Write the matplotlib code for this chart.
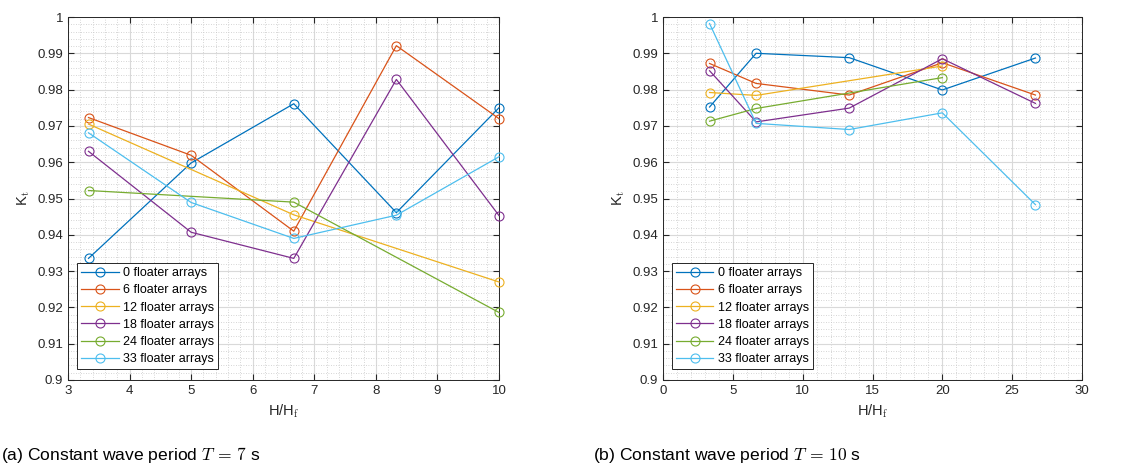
import numpy as np
import matplotlib
matplotlib.use("Agg")
import matplotlib.pyplot as plt
from matplotlib.ticker import MultipleLocator, FormatStrFormatter

plt.rcParams['font.family'] = ['Liberation Sans', 'DejaVu Sans']
plt.rcParams['mathtext.fontset'] = 'cm'

# MARK: data

labels = ['0 floater arrays', '6 floater arrays', '12 floater arrays',
          '18 floater arrays', '24 floater arrays', '33 floater arrays']
colors = ['#0072BD', '#D95319', '#EDB120', '#7E2F8E', '#77AC30', '#4DBEEE']

# (a) T = 7 s
x_a = [3.333, 5.0, 6.667, 8.333, 10.0]
x_a_short = [3.333, 6.667, 10.0]
kt_a_0 = [0.9335, 0.9598, 0.9761, 0.9461, 0.9750]
kt_a_6 = [0.9723, 0.9619, 0.9410, 0.9921, 0.9720]
kt_a_12 = [0.9705, 0.9455, 0.9270]
kt_a_18 = [0.9630, 0.9407, 0.9335, 0.9828, 0.9453]
kt_a_24 = [0.9522, 0.9490, 0.9186]
kt_a_33 = [0.9681, 0.9489, 0.9390, 0.9454, 0.9615]

# (b) T = 10 s
x_b = [3.333, 6.667, 13.333, 20.0, 26.667]
x_b_short = [3.333, 6.667, 20.0]
kt_b_0 = [0.9752, 0.9900, 0.9888, 0.9799, 0.9887]
kt_b_6 = [0.9872, 0.9817, 0.9785, 0.9874, 0.9785]
kt_b_12 = [0.9792, 0.9784, 0.9865]
kt_b_18 = [0.9852, 0.9711, 0.9749, 0.9885, 0.9762]
kt_b_24 = [0.9713, 0.9748, 0.9833]
kt_b_33 = [0.9982, 0.9707, 0.9690, 0.9736, 0.9483]

series_a = [(x_a, kt_a_0), (x_a, kt_a_6), (x_a_short, kt_a_12),
            (x_a, kt_a_18), (x_a_short, kt_a_24), (x_a, kt_a_33)]
series_b = [(x_b, kt_b_0), (x_b, kt_b_6), (x_b_short, kt_b_12),
            (x_b, kt_b_18), (x_b_short, kt_b_24), (x_b, kt_b_33)]

# MARK: plotting

fig = plt.figure(figsize=(11.48, 4.68), dpi=100)
ax_a = fig.add_axes([68 / 1148, 1 - 380 / 468, 431 / 1148, 363 / 468])
ax_b = fig.add_axes([663 / 1148, 1 - 380 / 468, 419 / 1148, 363 / 468])


def style_axes(ax, xlim, xmajor, xminor):
    ax.set_xlim(*xlim)
    ax.set_ylim(0.9, 1.0)
    ax.xaxis.set_major_locator(MultipleLocator(xmajor))
    ax.xaxis.set_minor_locator(MultipleLocator(xminor))
    ax.yaxis.set_major_locator(MultipleLocator(0.01))
    ax.yaxis.set_minor_locator(MultipleLocator(0.002))
    ax.yaxis.set_major_formatter(FormatStrFormatter('%g'))
    ax.xaxis.set_major_formatter(FormatStrFormatter('%g'))
    ax.grid(which='major', color='#d9d9d9', linewidth=0.8)
    ax.grid(which='minor', color='#c8c8c8', linewidth=0.6, linestyle=(0, (1, 2)))
    ax.set_axisbelow(True)
    ax.tick_params(which='both', direction='in', top=True, right=True,
                   labelsize=9.5, colors='#262626', length=4)
    ax.tick_params(which='minor', length=0)
    for sp in ax.spines.values():
        sp.set_color('#262626')
        sp.set_linewidth(0.7)


for ax, series in ((ax_a, series_a), (ax_b, series_b)):
    for (xs, ys), c, lab in zip(series, colors, labels):
        ax.plot(xs, ys, color=c, linewidth=0.9, marker='o', markersize=6.5,
                markerfacecolor='none', markeredgewidth=0.8, label=lab,
                clip_on=False, zorder=3)

style_axes(ax_a, (3, 10), 1, 0.2)
style_axes(ax_b, (0, 30), 5, 1)

for ax in (ax_a, ax_b):
    ax.set_xlabel('H/H$_{\\rm f}$', fontsize=10.5, color='#262626')
    ax.set_ylabel('K$_{\\rm t}$', fontsize=10.5, color='#262626')
    leg = ax.legend(loc='lower left', bbox_to_anchor=(0.022, 0.03),
                    fontsize=9, frameon=True, fancybox=False, framealpha=1,
                    edgecolor='#262626', handlelength=3.0, borderpad=0.3,
                    labelspacing=0.42, handletextpad=0.35, borderaxespad=0)
    leg.get_frame().set_linewidth(0.7)
    leg.set_zorder(5)

fig.text(0.001, 0.018, r'(a) Constant wave period $T\,=\,7$ s', fontsize=12.6,
         color='black')
fig.text(593 / 1148, 0.018, r'(b) Constant wave period $T\,=\,10$ s', fontsize=12.6,
         color='black')

fig.savefig('out.png', dpi=100)
